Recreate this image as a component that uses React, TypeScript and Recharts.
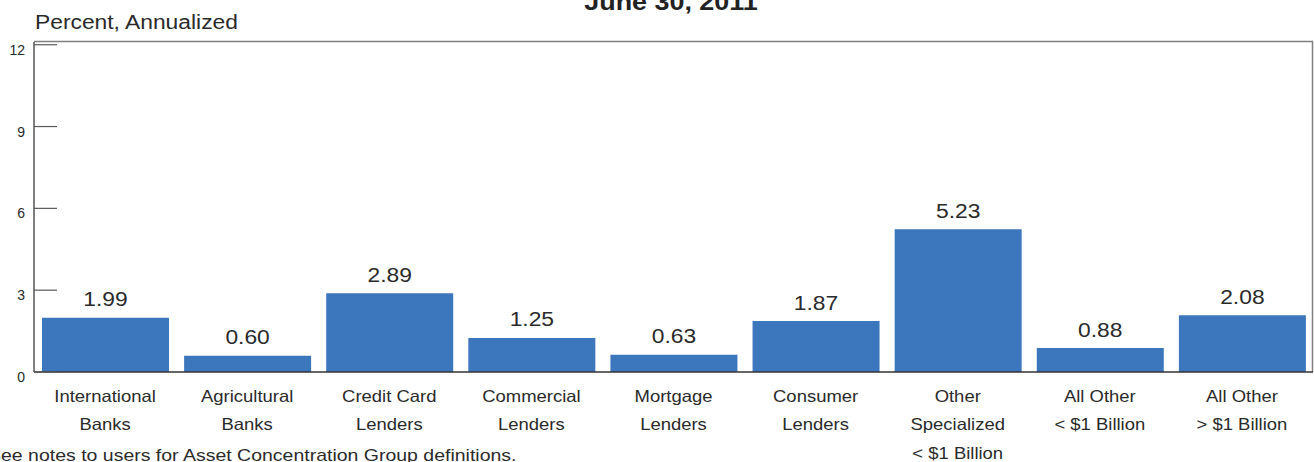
import React from "react";
import { BarChart, Bar, XAxis, YAxis, LabelList, Customized } from "recharts";

const categories: string[] = [
  "International\nBanks",
  "Agricultural\nBanks",
  "Credit Card\nLenders",
  "Commercial\nLenders",
  "Mortgage\nLenders",
  "Consumer\nLenders",
  "Other\nSpecialized\n< $1 Billion",
  "All Other\n< $1 Billion",
  "All Other\n> $1 Billion",
];
const values: number[] = [1.99, 0.6, 2.89, 1.25, 0.63, 1.87, 5.23, 0.88, 2.08];
const yTicks: number[] = [0, 3, 6, 9, 12];
const titleText = "June 30, 2011";
const yAxisTitle = "Percent, Annualized";
const footnote = "See notes to users for Asset Concentration Group definitions.";

const data = categories.map((c, i) => ({ category: c, value: values[i] }));

const FONT = "'Liberation Sans', Arial, Helvetica, sans-serif";
const BAR = "#3C76BC";
const TEXT = "#2a2a2a";

const XTick = (props: any) => {
  const { x, payload } = props;
  const lines = String(payload.value).split("\n");
  return (
    <g>
      {lines.map((l, i) => (
        <text
          key={i}
          transform={`translate(${x},${401.5 + i * 28.5}) scale(1.12,1)`}
          x={0}
          y={0}
          textAnchor="middle"
          fontSize={16.5}
          fontFamily={FONT}
          fill={TEXT}
        >
          {l}
        </text>
      ))}
    </g>
  );
};

const YTick = (props: any) => {
  const { y, payload } = props;
  return (
    <g>
      <line x1={34} x2={57} y1={y} y2={y} stroke="#5a5a5a" strokeWidth={1.2} />
      <text
        x={25}
        y={y + 10}
        textAnchor="end"
        fontSize={14}
        fontFamily={FONT}
        fill={TEXT}
      >
        {payload.value}
      </text>
    </g>
  );
};

const ValueLabel = (props: any) => {
  const { x, y, width, value } = props;
  return (
    <text
      transform={`translate(${x + width / 2},${y - 11.5}) scale(1.17,1)`}
      x={0}
      y={0}
      textAnchor="middle"
      fontSize={19.5}
      fontFamily={FONT}
      fill={TEXT}
    >
      {Number(value).toFixed(2)}
    </text>
  );
};

const Extras = () => (
  <g>
    <line x1={34} x2={1313} y1={41.5} y2={41.5} stroke="#808080" strokeWidth={1.5} />
    <line x1={1312.5} x2={1312.5} y1={41} y2={372} stroke="#808080" strokeWidth={1.5} />
    <text
      transform={`translate(671,10) scale(1.17,1)`}
      textAnchor="middle"
      fontSize={23}
      fontWeight="bold"
      fontFamily={FONT}
      fill="#222"
    >
      {titleText}
    </text>
    <text
      transform={`translate(35,29) scale(1.17,1)`}
      textAnchor="start"
      fontSize={19.5}
      fontFamily={FONT}
      fill={TEXT}
    >
      {yAxisTitle}
    </text>
    <text
      transform={`translate(-12,461) scale(1.12,1)`}
      textAnchor="start"
      fontSize={17.4}
      fontFamily={FONT}
      fill={TEXT}
    >
      {footnote}
    </text>
  </g>
);

export default function App() {
  return (
    <div style={{ position: "absolute", left: 0, top: 0, width: 1314, height: 462, background: "#fff" }}>
      <BarChart
        width={1314}
        height={462}
        data={data}
        margin={{ top: 42, right: 1, bottom: 0, left: 0 }}
        barSize={127}
      >
        <XAxis
          dataKey="category"
          height={90}
          axisLine={{ stroke: "#333", strokeWidth: 1.5 }}
          tickLine={false}
          tick={<XTick />}
          interval={0}
        />
        <YAxis
          width={34}
          domain={[0, 12.1]}
          ticks={yTicks}
          axisLine={{ stroke: "#555", strokeWidth: 1.5 }}
          tickLine={false}
          tickSize={0}
          tick={<YTick />}
          allowDataOverflow
        />
        <Bar dataKey="value" fill={BAR} isAnimationActive={false}>
          <LabelList dataKey="value" content={<ValueLabel />} />
        </Bar>
        <Customized component={Extras} />
      </BarChart>
    </div>
  );
}
